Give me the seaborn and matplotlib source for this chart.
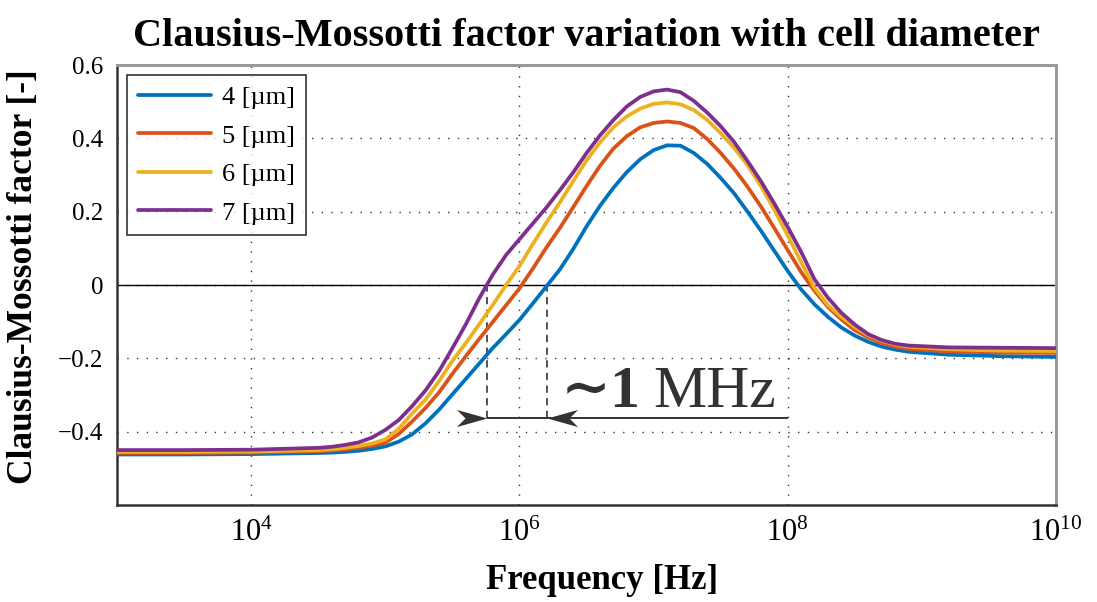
import numpy as np
import pandas as pd
import matplotlib
matplotlib.use('Agg')
import matplotlib.pyplot as plt
from matplotlib.path import Path
import seaborn as sns

# --- DATOS ---
# log10 de la frecuencia [Hz]
log_freq = [3.0, 3.5, 4.0,
            4.5, 4.6, 4.7, 4.8, 4.9, 5.0, 5.1, 5.2, 5.3, 5.4, 5.5, 5.6, 5.7, 5.8, 5.9,
            6.0, 6.1, 6.2, 6.3, 6.4, 6.5, 6.6, 6.7, 6.8, 6.9, 7.0, 7.1, 7.2, 7.3, 7.4,
            7.5, 7.6, 7.7, 7.8, 7.9, 8.0, 8.1, 8.2, 8.3, 8.4, 8.5, 8.6, 8.7, 8.8, 8.9,
            9.2, 9.6, 10.0]

cm_4um = [-0.462, -0.462, -0.461,
          -0.458, -0.457, -0.455, -0.452, -0.447, -0.440, -0.427, -0.407, -0.377, -0.340,
          -0.298, -0.256, -0.214, -0.172, -0.134,
          -0.095, -0.050, -0.004, 0.042, 0.098, 0.160, 0.216, 0.265, 0.308, 0.343, 0.368,
          0.381, 0.380, 0.360, 0.330,
          0.292, 0.250, 0.200, 0.148, 0.093, 0.038, -0.012, -0.053, -0.087, -0.116,
          -0.138, -0.155, -0.168, -0.176, -0.182,
          -0.190, -0.194, -0.196]
cm_5um = [-0.458, -0.458, -0.457,
          -0.453, -0.451, -0.448, -0.444, -0.438, -0.430, -0.406, -0.372, -0.335, -0.293,
          -0.242, -0.194, -0.147, -0.101, -0.055,
          -0.009, 0.045, 0.102, 0.155, 0.212, 0.270, 0.325, 0.372, 0.406, 0.430, 0.442,
          0.446, 0.442, 0.428, 0.398,
          0.360, 0.317, 0.268, 0.214, 0.155, 0.095, 0.035, -0.016, -0.060, -0.094,
          -0.123, -0.143, -0.158, -0.168, -0.174,
          -0.181, -0.184, -0.185]
cm_6um = [-0.455, -0.455, -0.454,
          -0.450, -0.448, -0.444, -0.439, -0.432, -0.421, -0.392, -0.350, -0.312, -0.262,
          -0.207, -0.158, -0.107, -0.055, 0.000,
          0.052, 0.112, 0.170, 0.225, 0.283, 0.340, 0.389, 0.430, 0.460, 0.481, 0.494,
          0.498, 0.493, 0.477, 0.450,
          0.414, 0.374, 0.327, 0.270, 0.205, 0.135, 0.062, -0.008, -0.055, -0.087,
          -0.115, -0.137, -0.152, -0.162, -0.168,
          -0.175, -0.179, -0.180]
cm_7um = [-0.450, -0.450, -0.449,
          -0.444, -0.441, -0.436, -0.429, -0.416, -0.395, -0.368, -0.330, -0.287, -0.235,
          -0.172, -0.107, -0.036, 0.028, 0.082,
          0.125, 0.168, 0.211, 0.258, 0.307, 0.360, 0.408, 0.450, 0.487, 0.513, 0.528,
          0.533, 0.526, 0.502, 0.470,
          0.433, 0.390, 0.338, 0.283, 0.222, 0.158, 0.090, 0.015, -0.035, -0.076,
          -0.108, -0.134, -0.150, -0.160, -0.165,
          -0.170, -0.171, -0.172]

etiquetas = ['4 [µm]', '5 [µm]', '6 [µm]', '7 [µm]']
colores = ['#0072BD', '#D95319', '#EDB120', '#7E2F8E']

y_ticks = [-0.4, -0.2, 0, 0.2, 0.4, 0.6]
y_ticklabels = ['−0.4', '−0.2', '0', '0.2', '0.4', '0.6']
x_ticks = [1e4, 1e6, 1e8, 1e10]
x_ticklabels = [r'$\mathregular{10^{4}}$', r'$\mathregular{10^{6}}$',
                r'$\mathregular{10^{8}}$', r'$\mathregular{10^{10}}$']

# --- ESTILO ---
sns.set_theme(style='white')
plt.rcParams['font.family'] = ['Liberation Serif', 'DejaVu Serif']
plt.rcParams['mathtext.fontset'] = 'custom'
plt.rcParams['mathtext.rm'] = 'Liberation Serif'
plt.rcParams['mathtext.bf'] = 'Liberation Serif:bold'
for clave in ['text.color', 'axes.labelcolor', 'xtick.color', 'ytick.color']:
    plt.rcParams[clave] = 'black'

freq = np.power(10.0, log_freq)
series = [cm_4um, cm_5um, cm_6um, cm_7um]
df = pd.concat([pd.DataFrame({'freq': freq, 'cm': s, 'diametro': lab})
                for s, lab in zip(series, etiquetas)], ignore_index=True)

fig = plt.figure(figsize=(10.97, 6.02), dpi=100)
ax = fig.add_axes([0.1067, 0.161, 0.856, 0.731])
ax.set_xscale('log')

sns.lineplot(data=df, x='freq', y='cm', hue='diametro', palette=colores,
             linewidth=2.7, ax=ax, zorder=3)

ax.set_xlim(1e3, 1e10)
ax.set_ylim(-0.6, 0.6)

# rejilla punteada y linea de cero
ax.grid(True, which='major', linestyle=(0, (1, 6)), color='#333333', linewidth=1.0)
ax.axhline(0, color='black', linewidth=1.0, zorder=2)

ax.set_xticks(x_ticks)
ax.set_xticklabels(x_ticklabels, fontsize=22)
ax.minorticks_off()
ax.set_yticks(y_ticks)
ax.set_yticklabels(y_ticklabels, fontsize=18)
ax.tick_params(axis='both', direction='in', length=6, color='#333333')
ax.tick_params(axis='x', pad=10)
ax.tick_params(axis='y', pad=10)

for lado in ['left', 'bottom']:
    ax.spines[lado].set_color('#333333')
    ax.spines[lado].set_linewidth(1.8)
for lado in ['top', 'right']:
    ax.spines[lado].set_color('#9a9a9a')
    ax.spines[lado].set_linewidth(2.2)

ax.set_title('Clausius-Mossotti factor variation with cell diameter',
             fontsize=29, fontweight='bold', pad=14, color='black')
ax.set_xlabel('Frequency [Hz]', fontsize=25, fontweight='bold')
ax.set_ylabel('Clausius-Mossotti factor [-]', fontsize=25.5, fontweight='bold')
ax.xaxis.set_label_coords(0.517, -0.135)
ax.yaxis.set_label_coords(-0.082, 0.52)

leg = ax.legend(loc='upper left', bbox_to_anchor=(0.0106, 0.977), borderaxespad=0,
                fontsize=19, frameon=True, fancybox=False, edgecolor='black',
                handlelength=2.8, handletextpad=0.4, labelspacing=0.57,
                borderpad=0.4, title=None)
leg.get_frame().set_linewidth(1.2)
for linea in leg.get_lines():
    linea.set_linewidth(2.7)


# --- ANOTACION ~1 MHz ---
def cruce_cero(valores):
    v = np.asarray(valores)
    i = np.where(np.diff(np.sign(v)) > 0)[0][0]
    lf = np.interp(0, [v[i], v[i + 1]], [log_freq[i], log_freq[i + 1]])
    return 10 ** lf


cruce_4 = cruce_cero(cm_4um)
cruce_7 = cruce_cero(cm_7um)
y_flecha = -0.362
gris = '#333333'
ax.vlines([cruce_7, cruce_4], y_flecha, 0, colors='#444444', linestyles=(0, (4, 3)),
          linewidth=1.3, zorder=2)
ax.hlines(y_flecha, cruce_7, 1e8, colors=gris, linewidth=1.4, zorder=2)

punta_der = Path([(0, 0), (-1, 0.28), (-0.72, 0), (-1, -0.28), (0, 0)],
                 [Path.MOVETO, Path.LINETO, Path.LINETO, Path.LINETO, Path.CLOSEPOLY])
punta_izq = Path([(0, 0), (1, 0.28), (0.72, 0), (1, -0.28), (0, 0)],
                 [Path.MOVETO, Path.LINETO, Path.LINETO, Path.LINETO, Path.CLOSEPOLY])
ax.plot([cruce_7], [y_flecha], marker=punta_der, markersize=44, color=gris,
        markeredgewidth=0, linestyle='none', zorder=4)
ax.plot([cruce_4], [y_flecha], marker=punta_izq, markersize=44, color=gris,
        markeredgewidth=0, linestyle='none', zorder=4)

ax.text(10 ** 6.31, -0.332, '∼1', fontsize=43, fontweight='bold', color=gris,
        ha='left', va='baseline', zorder=4)
ax.text(10 ** 7.0, -0.332, 'MHz', fontsize=43, color=gris,
        ha='left', va='baseline', zorder=4)

plt.savefig('out.png', dpi=100)
